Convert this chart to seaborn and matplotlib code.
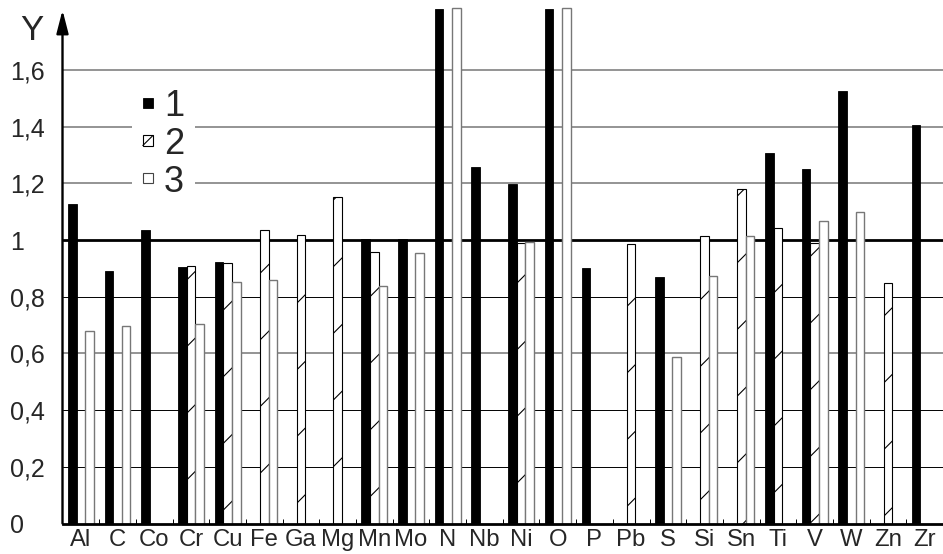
import numpy as np
import pandas as pd
import matplotlib
matplotlib.use("Agg")
import matplotlib.pyplot as plt
from matplotlib.patches import Patch, Rectangle
from matplotlib.lines import Line2D
from matplotlib.legend_handler import HandlerBase
import seaborn as sns

# ================= data =================
elements = ["Al", "C", "Co", "Cr", "Cu", "Fe", "Ga", "Mg", "Mn", "Mo", "N", "Nb",
            "Ni", "O", "P", "Pb", "S", "Si", "Sn", "Ti", "V", "W", "Zn", "Zr"]
series_names = ["1", "2", "3"]
nan = np.nan
s1 = [1.127, 0.892, 1.035, 0.905, 0.922, nan, nan, nan, 1.002, 1.002, 1.815, 1.259,
      1.196, 1.816, 0.900, nan, 0.870, nan, nan, 1.308, 1.249, 1.527, nan, 1.406]
s2 = [nan, nan, nan, 0.910, 0.918, 1.035, 1.017, 1.153, 0.957, nan, nan, nan,
      0.988, nan, nan, 0.985, nan, 1.015, 1.179, 1.041, 0.988, nan, 0.847, nan]
s3 = [0.678, 0.696, nan, 0.703, 0.851, 0.858, nan, nan, 0.838, 0.953, 1.817, nan,
      0.994, 1.817, nan, nan, 0.588, 0.874, 1.013, nan, 1.067, 1.100, nan, nan]
y_ticks = [0, 0.2, 0.4, 0.6, 0.8, 1.0, 1.2, 1.4, 1.6]
y_labels = ["0", "0,2", "0,4", "0,6", "0,8", "1", "1,2", "1,4", "1,6"]
# ========================================


class HatchSquare(HandlerBase):
    """white square with one diagonal stroke (legend for series 2)"""
    def create_artists(self, legend, orig_handle, xdescent, ydescent,
                       width, height, fontsize, trans):
        x0, y0 = -xdescent, -ydescent
        r = Rectangle((x0, y0), width, height, facecolor="white",
                      edgecolor="black", lw=0.4, transform=trans)
        ln = Line2D([x0, x0 + width], [y0, y0 + height], color="black",
                    lw=0.4, transform=trans)
        return [r, ln]


df = pd.DataFrame({
    "element": elements * 3,
    "series": [n for n in series_names for _ in elements],
    "Y": s1 + s2 + s3,
})

sns.set_style("white")
plt.rcParams["font.family"] = ["Liberation Sans", "DejaVu Sans"]
plt.rcParams["hatch.linewidth"] = 0.4

W, H = 943, 554
fig = plt.figure(figsize=(W / 200, H / 200), dpi=200)
y_top = 1.835
px_per_unit = 283.5
ax = fig.add_axes([62.5 / W, 30.5 / H, (W - 62.5) / W, y_top * px_per_unit / H])

sns.barplot(data=df, x="element", y="Y", hue="series", order=elements,
            hue_order=series_names, width=0.705, gap=0, errorbar=None,
            saturation=1, legend=False, ax=ax)

styles = [
    dict(facecolor="black", edgecolor="black", hatch=None, lw=0.3),
    dict(facecolor="white", edgecolor="black", hatch="/", lw=0.4),
    dict(facecolor="white", edgecolor="#777777", hatch=None, lw=0.5),
]
for cont, st in zip(ax.containers, styles):
    for bar in cont:
        bar.set_facecolor(st["facecolor"])
        bar.set_edgecolor(st["edgecolor"])
        bar.set_linewidth(st["lw"])
        if st["hatch"]:
            bar.set_hatch(st["hatch"])
        bar.set_zorder(2)

# horizontal grid
for y in [0.2, 0.4, 0.8]:
    ax.axhline(y, color="black", lw=0.35, zorder=0.5)
for y in [0.6, 1.2, 1.4, 1.6]:
    ax.axhline(y, color="#777777", lw=0.55, zorder=0.5)
ax.axhline(1.0, color="black", lw=1.0, zorder=0.5)

ax.set_xlim(-0.5, -0.5 + (W - 62.5) / 36.9)
ax.set_ylim(0, y_top)
ax.set_xlabel("")
ax.set_ylabel("")

ax.set_yticks(y_ticks, y_labels)
ax.tick_params(axis="y", length=0, pad=18.9, labelsize=9)
for lab in ax.get_yticklabels():
    lab.set_horizontalalignment("left")

ax.set_xticks(range(len(elements)), elements)
ax.set_xticks(np.arange(0.5, len(elements), 1), minor=True)
ax.tick_params(axis="x", which="major", length=0, pad=2, labelsize=8.6)
ax.tick_params(axis="x", which="minor", direction="in", length=1.8,
               width=0.35, color="black", bottom=True)

for side in ["left", "top", "right"]:
    ax.spines[side].set_visible(False)
ax.spines["bottom"].set_linewidth(1.0)
ax.spines["bottom"].set_color("black")

# y axis with arrow
ax.annotate("", xy=(-0.5, 1.811), xytext=(-0.5, 0), xycoords="data",
            arrowprops=dict(arrowstyle="-|>,head_length=7,head_width=1.8",
                            mutation_scale=1, lw=0.85, color="black",
                            shrinkA=0, shrinkB=0),
            annotation_clip=False)
fig.text(20 / W, 1 - 14 / H, "Y", fontsize=12.5, va="top", ha="left")

handles = [
    Patch(facecolor="black", edgecolor="black", lw=0.3),
    Patch(facecolor="white", edgecolor="black", lw=0.4),
    Patch(facecolor="white", edgecolor="#444444", lw=0.4),
]
leg = ax.legend(handles, series_names, loc="upper left",
                bbox_to_anchor=(132 / W, 1 - 78 / H), bbox_transform=fig.transFigure,
                fontsize=13, handlelength=0.28, handleheight=0.05,
                handletextpad=0.3, labelspacing=0.08, borderpad=0.3,
                borderaxespad=0, framealpha=1, fancybox=False,
                handler_map={handles[1]: HatchSquare()})
leg.get_frame().set_linewidth(0)
leg.get_frame().set_facecolor("white")

fig.savefig("out.png", dpi=200)
